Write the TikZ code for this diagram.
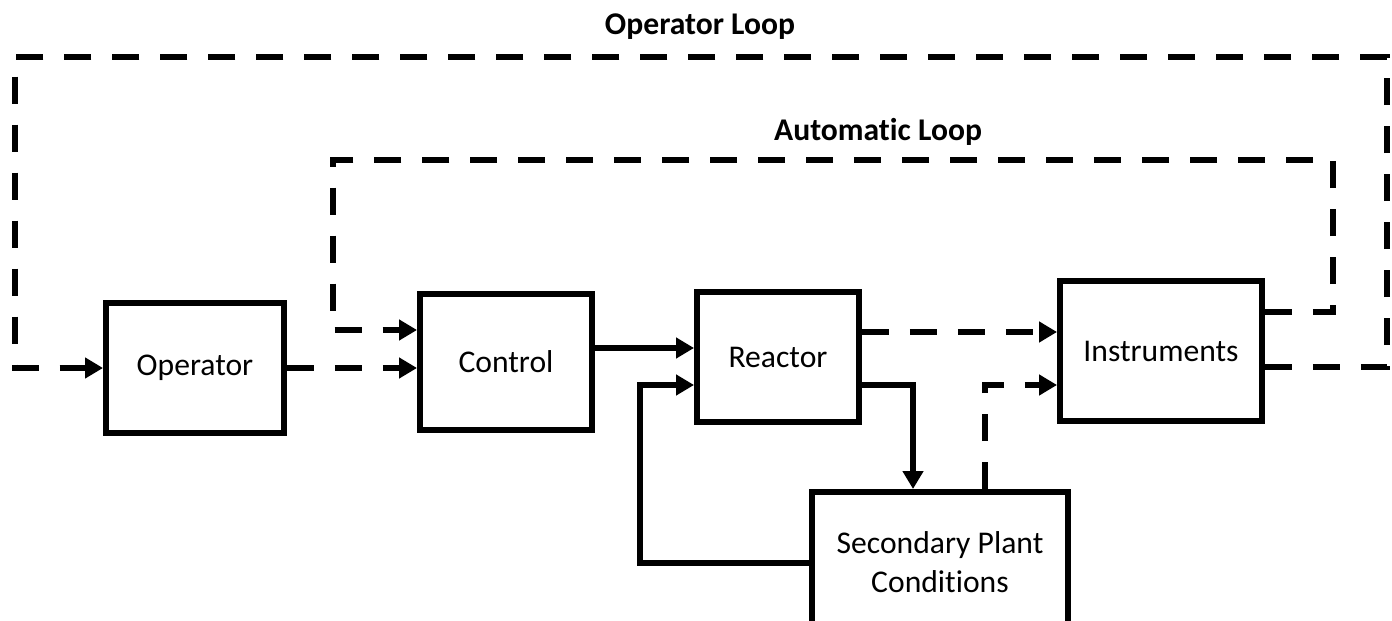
\documentclass[tikz,border=0pt]{standalone}
\usepackage{fontspec}
\setmainfont[Ligatures={NoCommon}]{Carlito}
\usetikzlibrary{arrows.meta, positioning, calc}
\tikzset{
  block/.style={draw=black, line width=0.12cm, fill=white, align=center,
                font=\fontsize{18}{22}\selectfont, inner sep=0pt},
  flow/.style={-{Triangle[length=0.36cm,width=0.4cm]}, line width=0.12cm},
  sigflow/.style={flow, dash pattern=on 0.54cm off 0.42cm},
  looplbl/.style={font=\fontsize{18}{22}\selectfont\bfseries},
}
\begin{document}
\begin{tikzpicture}[x=0.02cm,y=-0.02cm]
\useasboundingbox (0,0) rectangle (1392,621);
\node[block,minimum width=3.56cm,minimum height=2.6cm] (operator) at (195,368) {Operator};
\node[block,minimum width=3.44cm,minimum height=2.72cm] (control) at (506,362) {Control};
\node[block,minimum width=3.24cm,minimum height=2.6cm] (reactor) at (778,357) {Reactor};
\node[block,minimum width=4.04cm,minimum height=2.82cm] (instr) at (1161,351) {Instruments};
\node[block,minimum width=5.14cm,minimum height=2.8cm] (plant) at (940,562) {Secondary Plant\\Conditions};
\node[looplbl] (oplbl) at (700,27) {Operator Loop};
\node[looplbl] (autolbl) at (878,132) {Automatic Loop};
\coordinate (opTR) at (1387,57);
\coordinate (opTL) at (15,57);
\coordinate (autoTR) at (1333,160);
\coordinate (autoTL) at (333,160);
\coordinate (fbL) at (640,563);
\coordinate (sigB) at (985,385);
\draw[sigflow] (operator.east) -- (operator.east -| control.west);
\draw[flow] (control.east |- 0,348) -- (reactor.west |- 0,348);
\draw[sigflow] (reactor.east |- 0,332) -- (instr.west |- 0,332);
\draw[flow] (reactor.east |- 0,385) -| (plant.north -| 913,0);
\draw[flow] (plant.west |- fbL) -- (fbL) |- (reactor.west |- 0,385);
\draw[sigflow] (plant.north -| sigB) -- (sigB) -- (instr.west |- sigB);
\draw[sigflow] (instr.east |- 0,312) -| (autoTR) -- (autoTL) |- (control.west |- 0,330);
\draw[sigflow] (instr.east |- 0,367) -| (opTR) -- (opTL) |- (operator.west);
\end{tikzpicture}
\end{document}
